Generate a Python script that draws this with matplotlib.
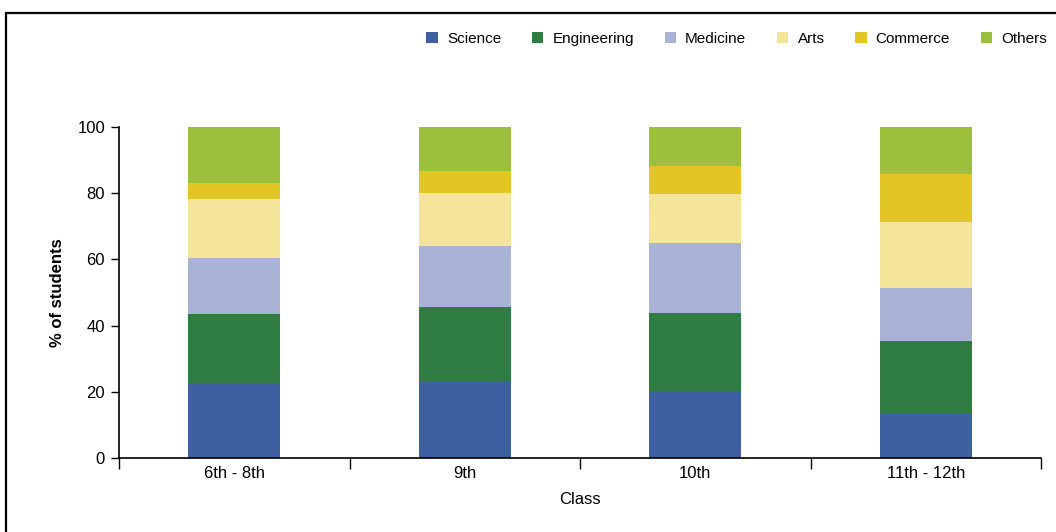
import matplotlib.pyplot as plt
from matplotlib.patches import Rectangle

# Données (% d'élèves par filière)
classes = ['6th - 8th', '9th', '10th', '11th - 12th']
streams = ['Science', 'Engineering', 'Medicine', 'Arts', 'Commerce', 'Others']
science = [22.7, 23.1, 20.0, 13.4]
engineering = [20.8, 22.5, 23.8, 21.9]
medicine = [16.9, 18.4, 21.2, 16.1]
arts = [17.8, 16.1, 14.8, 19.9]
commerce = [4.9, 6.6, 8.4, 14.5]
others = [16.9, 13.3, 12.1, 14.2]

series = [science, engineering, medicine, arts, commerce, others]
colors = ['#3E60A0', '#2F7D42', '#A9B3D6', '#F4E59A', '#E2C625', '#9DC03C']

plt.rcParams['font.family'] = ['Liberation Sans', 'DejaVu Sans']

fig = plt.figure(figsize=(10.56, 5.32), dpi=100)
ax = fig.add_axes([119 / 1056, 1 - 458 / 532, (1041 - 119) / 1056, (458 - 127) / 532])

# Cadre extérieur
fig.patches.append(Rectangle((6 / 1056, -0.1), 1.2, 1 - 13 / 532 + 0.1,
                             transform=fig.transFigure, fill=False,
                             edgecolor='black', linewidth=1.6))

x = range(len(classes))
bottom = [0.0] * len(classes)
for name, vals, col in zip(streams, series, colors):
    ax.bar(x, vals, width=0.40, bottom=bottom, color=col, label=name)
    bottom = [b + v for b, v in zip(bottom, vals)]

ax.set_xlim(-0.5, 3.5)
ax.set_ylim(0, 100)
ax.set_yticks([0, 20, 40, 60, 80, 100])
ax.set_xticks([-0.5, 0.5, 1.5, 2.5, 3.5])
ax.set_xticklabels([])
ax.set_xticks(list(x), minor=True)
ax.set_xticklabels(classes, minor=True)
ax.tick_params(axis='x', which='minor', length=0, pad=6, labelsize=12)
ax.tick_params(axis='x', which='major', length=8, width=1, direction='out')
ax.tick_params(axis='y', length=6, width=1, direction='out', labelsize=12, pad=4)

for s in ['top', 'right']:
    ax.spines[s].set_visible(False)
for s in ['left', 'bottom']:
    ax.spines[s].set_linewidth(1.2)

ax.set_xlabel('Class', fontsize=12, labelpad=8)
ax.set_ylabel('% of students', fontsize=12, fontweight='bold', labelpad=9)

fig.legend(loc='upper right', bbox_to_anchor=(1047 / 1056, 1 - 32 / 532), ncol=6,
           frameon=False, fontsize=11, handlelength=0.75, handleheight=0.75,
           handletextpad=0.6, columnspacing=2.0, borderpad=0, borderaxespad=0)

fig.savefig('out.png', dpi=100)
